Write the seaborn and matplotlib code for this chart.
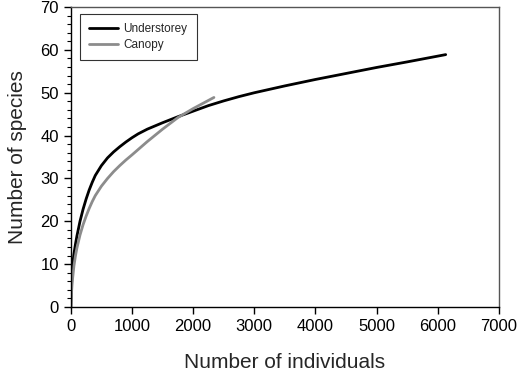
import matplotlib
matplotlib.use("Agg")
import matplotlib.pyplot as plt
import seaborn as sns
import pandas as pd
from matplotlib.ticker import MultipleLocator

understorey_x = [0, 5, 10, 20, 30, 40, 50, 75, 100, 150, 200, 250, 300, 350, 400, 500, 600,
                 700, 800, 900, 1000, 1100, 1250, 1500, 1750, 2000, 2250, 2500, 2750, 3000,
                 3500, 4000, 4500, 5000, 5500, 6130]
understorey_y = [0, 3.2, 5.0, 7.6, 9.6, 11.1, 12.3, 14.6, 16.6, 20.0, 22.8, 25.2, 27.3, 29.1,
                 30.7, 33.0, 34.8, 36.2, 37.4, 38.5, 39.5, 40.4, 41.5, 43.0, 44.4, 45.7, 47.0,
                 48.1, 49.1, 50.0, 51.6, 53.1, 54.5, 55.9, 57.2, 58.9]
canopy_x = [0, 5, 10, 20, 30, 50, 75, 100, 150, 200, 250, 300, 350, 400, 500, 600, 700, 800,
            900, 1000, 1250, 1500, 1750, 2000, 2340]
canopy_y = [0, 2.0, 3.2, 5.2, 6.8, 9.5, 11.9, 13.8, 16.8, 19.2, 21.2, 23.0, 24.6, 26.0, 28.2,
            30.0, 31.6, 33.0, 34.3, 35.5, 38.6, 41.5, 44.2, 46.3, 48.9]
series_names = ["Understorey", "Canopy"]
x_ticks = [0, 1000, 2000, 3000, 4000, 5000, 6000, 7000]
y_ticks = [0, 10, 20, 30, 40, 50, 60, 70]

df = pd.concat([
    pd.DataFrame({"x": understorey_x, "y": understorey_y, "series": series_names[0]}),
    pd.DataFrame({"x": canopy_x, "y": canopy_y, "series": series_names[1]}),
])

sns.set_style("ticks")
plt.rcParams["font.family"] = ["Liberation Sans", "DejaVu Sans"]

fig = plt.figure(figsize=(5.17, 3.71), dpi=100)
ax = fig.add_axes([0.137, 0.1725, 0.828, 0.8085])

sns.lineplot(data=df, x="x", y="y", hue="series", hue_order=series_names,
             palette={"Understorey": "#000000", "Canopy": "#8c8c8c"},
             linewidth=2.0, ax=ax, sort=False, estimator=None)

ax.set_xlim(0, 7000)
ax.set_ylim(0, 70)
ax.set_xticks(x_ticks)
ax.set_yticks(y_ticks)
ax.yaxis.set_minor_locator(MultipleLocator(2))
ax.tick_params(axis="both", which="major", labelsize=12, direction="out", length=5,
               width=1, color="black", labelcolor="black")
ax.tick_params(axis="y", which="minor", direction="out", length=3, width=0.8, color="black")
for s in ax.spines.values():
    s.set_visible(True)
    s.set_color("black")
    s.set_linewidth(1.0)
ax.spines["top"].set_color("#555555")
ax.spines["right"].set_color("#555555")

ax.set_xlabel("Number of individuals", fontsize=15, labelpad=14)
ax.set_ylabel("Number of species", fontsize=15, labelpad=10)

leg = ax.legend(loc="upper left", bbox_to_anchor=(0.021, 0.978), fontsize=8.5,
                frameon=True, fancybox=False, edgecolor="black", handlelength=2.4,
                borderpad=0.8, labelspacing=0.3, handletextpad=0.5, borderaxespad=0)
leg.get_frame().set_linewidth(0.8)
for line in leg.get_lines():
    line.set_linewidth(2.0)

fig.savefig("out.png", dpi=100)
